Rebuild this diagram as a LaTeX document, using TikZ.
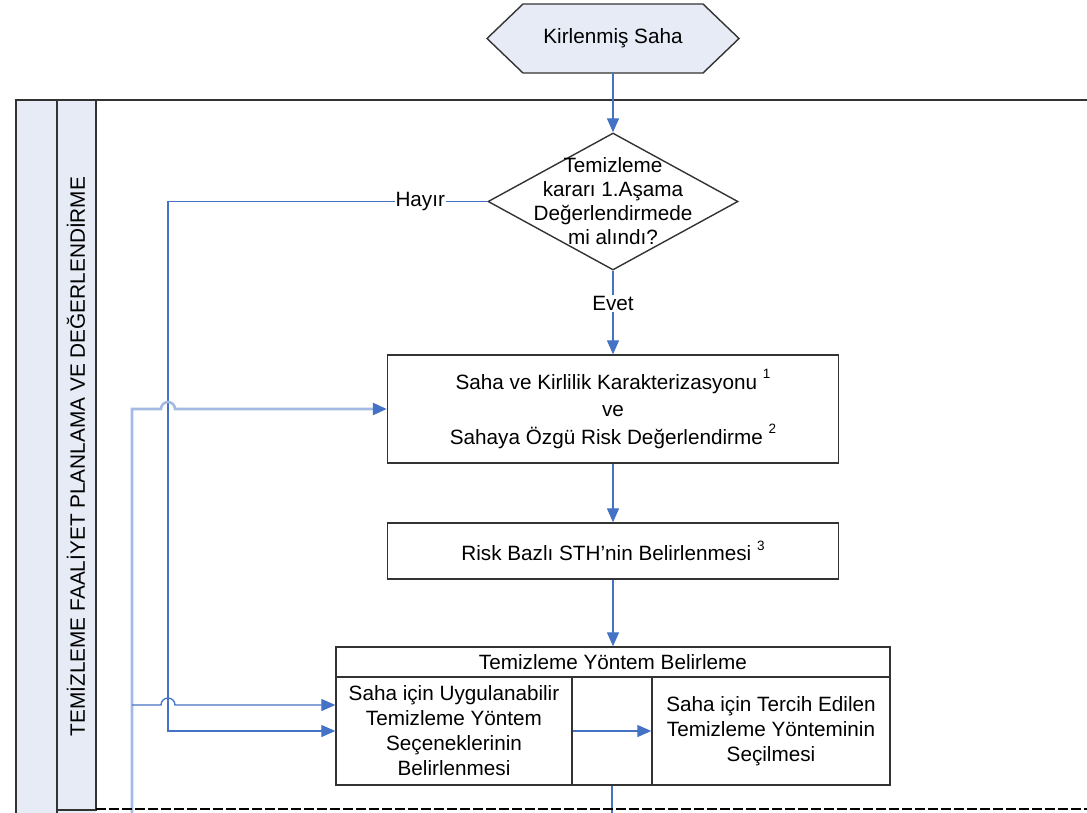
\documentclass[tikz,border=0pt]{standalone}
\usepackage{fontspec}
\setmainfont{Liberation Sans}
\usetikzlibrary{arrows.meta,shapes.geometric,calc}
\definecolor{conn}{HTML}{4472C4}
\definecolor{connl}{HTML}{A3BBE3}
\definecolor{lanefill}{HTML}{E7EBF6}
\definecolor{frame}{HTML}{333333}
\newcommand\sups[1]{\raisebox{0.5em}{\fontsize{13.5}{13.5}\selectfont #1}}
\begin{document}
\begin{tikzpicture}[x=1pt,y=-1pt,
  font=\fontsize{20.7}{24}\selectfont,
  box/.style={draw=frame, line width=1.4pt, inner sep=0pt, align=center},
  tip/.style={-{Triangle[length=14pt,width=12pt,color=conn]}},
  arr/.style={draw=conn, line width=1.3pt, tip},
  ln/.style={draw=conn, line width=1.3pt},
  lbl/.style={fill=white, inner sep=1pt}]
\useasboundingbox (0,0) rectangle (1087,812);

% swimlane
\fill[lanefill] (16,100) rectangle (96,816);
\draw[frame, line width=1.8pt] (16,816) -- (16,100) -- (1092,100);
\draw[frame, line width=1.5pt] (57,816) -- (57,100);
\draw[frame, line width=1.5pt] (96,100) -- (96,810) -- (57,810);
\node[rotate=90, font=\fontsize{20.8}{24}\selectfont] (lanetitle) at (76,456.5) {TEMİZLEME FAALİYET PLANLAMA VE DEĞERLENDİRME};

% start hexagon
\draw[frame, line width=1.4pt, fill=lanefill] (487,38.5) -- (523,4) -- (703,4) -- (739,38.5) -- (703,73) -- (523,73) -- cycle;
\node[minimum width=216, minimum height=69, inner sep=0pt] (start) at (613,38.5) {Kirlenmiş Saha};

% decision
\node[diamond, draw=frame, line width=1.4pt, minimum width=250, minimum height=137, inner sep=0pt] (dec) at (613,201.5) {};
\node[align=center] (dectext) at (613,201) {Temizleme\\kararı 1.Aşama\\Değerlendirmede\\mi alındı?};

% boxes
\node[box, minimum width=451, minimum height=108, font=\fontsize{20.7}{27.5}\selectfont] (box1) at (613,409)
  {Saha ve Kirlilik Karakterizasyonu \sups{1}\\ve\\Sahaya Özgü Risk Değerlendirme \sups{2}};
\node[box, minimum width=451, minimum height=56] (box2) at (613,551) {Risk Bazlı STH'nin Belirlenmesi \sups{3}};

% table
\node[box, minimum width=554, minimum height=30] (hdr) at (613,662) {Temizleme Yöntem Belirleme};
\node[box, minimum width=236, minimum height=108, font=\fontsize{20.7}{25}\selectfont] (cellL) at (454,731)
  {Saha için Uygulanabilir\\Temizleme Yöntem\\Seçeneklerinin\\Belirlenmesi};
\node[box, minimum width=80, minimum height=108] (cellM) at (612,731) {};
\node[box, minimum width=238, minimum height=108, font=\fontsize{20.7}{25}\selectfont] (cellR) at (771,731)
  {Saha için Tercih Edilen\\Temizleme Yönteminin\\Seçilmesi};

% coordinates
\coordinate (h1) at (168,201.5);
\coordinate (h2) at (168,731);
\coordinate (l0) at (132,816);
\coordinate (l1) at (132,409);
\coordinate (b2) at (132,705);
\coordinate (bot) at (612,816);

% connectors
\draw[arr] (start.south) -- (dec.north);
\draw[arr] (dec.south) -- node[lbl, pos=0.39] (evet) {Evet} (box1.north);
\draw[arr] (box1.south) -- (box2.north);
\draw[arr] (box2.south) -- (hdr.north);
\draw[arr] (dec.west) -- node[lbl, pos=0.21] (hayir) {Hayır} (h1) -- (h2) -- (cellL.west);
\draw[draw=connl, line width=2.6pt, tip] (l0) -- (l1) -- ($(l1 -| h1)+(-7,0)$)
  arc[start angle=180, end angle=0, radius=7pt] -- (box1.west);
\draw[arr] (b2) -- ($(b2 -| h1)+(-7,0)$)
  arc[start angle=180, end angle=0, radius=7pt] -- (b2 -| cellL.west);
\draw[arr] (cellL.east) -- (cellR.west);
\draw[ln] (cellM.south) -- (bot);

% dashed lane bottom
\draw[black, line width=2.4pt, dash pattern=on 10pt off 3pt] (96,809) -- (1092,809);
\end{tikzpicture}
\end{document}
